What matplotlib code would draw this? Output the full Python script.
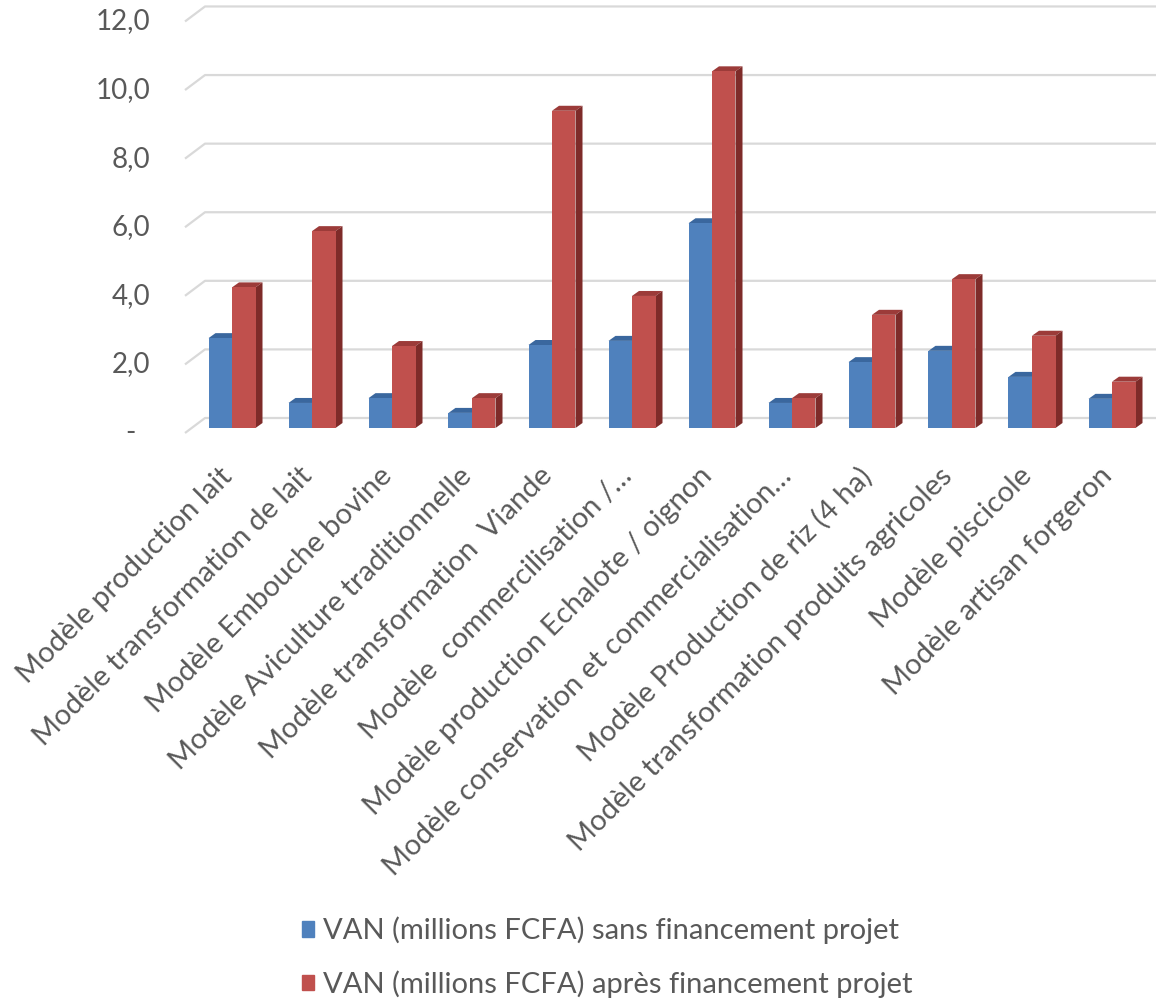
import numpy as np
import matplotlib.pyplot as plt
from matplotlib.patches import Polygon, Patch

plt.rcParams['font.family'] = ['Lato', 'DejaVu Sans']

categories = [
    'Modèle production lait',
    'Modèle transformation de lait',
    'Modèle Embouche bovine',
    'Modèle Aviculture traditionnelle',
    'Modèle transformation  Viande',
    'Modèle  commercilisation /…',
    'Modèle production Echalote / oignon',
    'Modèle conservation et commercialisation…',
    'Modèle Production de riz (4 ha)',
    'Modèle transformation produits agricoles',
    'Modèle piscicole',
    'Modèle artisan forgeron',
]
van_sans = [2.62, 0.73, 0.87, 0.44, 2.42, 2.54, 5.97, 0.73, 1.92, 2.25, 1.49, 0.85]
van_apres = [4.10, 5.74, 2.39, 0.87, 9.25, 3.85, 10.40, 0.87, 3.30, 4.34, 2.69, 1.35]
series_names = ['VAN (millions FCFA) sans financement projet',
                'VAN (millions FCFA) après financement projet']
yticks = [0, 2, 4, 6, 8, 10, 12]
ytick_labels = ['-', '2,0', '4,0', '6,0', '8,0', '10,0', '12,0']

W, H = 1156, 1006
TEXT = '#595959'
GRID = '#d9d9d9'
FACE = {'blue': ('#4f81bd', '#3a679e', '#335b8c'),
        'red': ('#c0504d', '#9c3b39', '#7e2b29')}

fig = plt.figure(figsize=(W / 100, H / 100), dpi=100)
ax = fig.add_axes([150 / W, 1 - 440 / H, 1006 / W, 440 / H])
ax.set_xlim(-1.025, 11.55)
ax.set_ylim(-0.35, 12.48)
ax.axis('off')

# pixels per data unit, used for the fake 3D depth
px_x, px_y = 80.0, 34.3
dx, dy = 7 / px_x, 5 / px_y
back, front = 10 / px_y, -5 / px_y

# back wall gridlines with the short floor diagonal on the left
x0_back, x0_front = (205 - 232) / px_x, (185 - 232) / px_x
for v in yticks:
    ax.plot([x0_front, x0_back, 11.55], [v + front, v + back, v + back],
            color=GRID, lw=1.6, solid_capstyle='butt', zorder=1)

for v, lab in zip(yticks, ytick_labels):
    if lab == '-':
        ax.text((130 - 232) / px_x, v + front, lab, ha='center', va='center',
                fontsize=20, color=TEXT)
    else:
        ax.text((150 - 232) / px_x, v + front, lab, ha='right', va='center',
                fontsize=20, color=TEXT)

x = np.arange(len(categories))
w = 23.5 / px_x


def bar3d(xs, heights, colors):
    front_c, top_c, side_c = colors
    bars = ax.bar(xs, heights, width=w, color=front_c, zorder=3)
    for b in bars:
        l, r, h = b.get_x(), b.get_x() + b.get_width(), b.get_height()
        ax.add_patch(Polygon([(l, h), (r, h), (r + dx, h + dy), (l + dx, h + dy)],
                             closed=True, color=top_c, zorder=2.5, lw=0))
        ax.add_patch(Polygon([(r, 0), (r + dx, dy), (r + dx, h + dy), (r, h)],
                             closed=True, color=side_c, zorder=2.5, lw=0))
    return bars


bar3d(x - w / 2, van_sans, FACE['blue'])
bar3d(x + w / 2, van_apres, FACE['red'])

for xi, lab in zip(x, categories):
    ax.text(xi - 4 / px_x, (428 - 472) / px_y, lab, rotation=45,
            rotation_mode='anchor', ha='right', va='center',
            fontsize=21, color=TEXT)

handles = [Patch(color=FACE['blue'][0]), Patch(color=FACE['red'][0])]
fig.legend(handles, series_names, loc='upper left',
           bbox_to_anchor=(290 / W, 1 - 905 / H), frameon=False,
           fontsize=21, labelcolor=TEXT, handlelength=0.43, handleheight=0.43,
           handletextpad=0.3, labelspacing=0.9, borderaxespad=0)

fig.savefig('out.png', dpi=100, facecolor='white')
